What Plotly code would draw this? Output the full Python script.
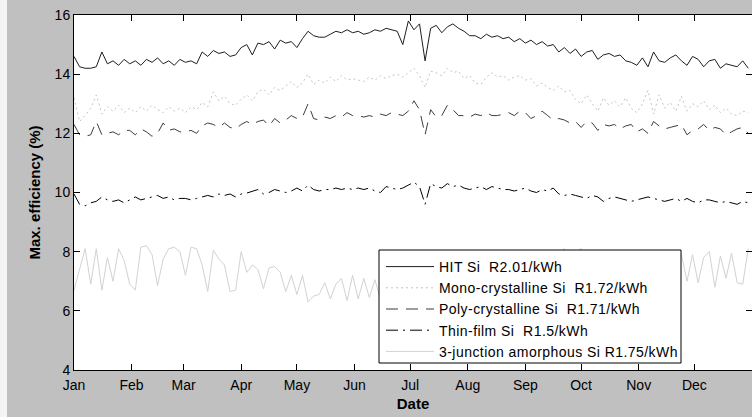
import plotly.graph_objects as go
import pandas as pd

# ---------------- data ----------------
months = ["Jan", "Feb", "Mar", "Apr", "May", "Jun", "Jul", "Aug", "Sep", "Oct", "Nov", "Dec"]
day_of_year = list(range(0, 366, 3))  # sampling grid (every 3rd day)

hit_si = [
    14.6, 14.25, 14.2, 14.2, 14.25, 14.75, 14.35, 14.45, 14.3, 14.5,
    14.35, 14.45, 14.3, 14.5, 14.4, 14.55, 14.35, 14.45, 14.3, 14.5,
    14.4, 14.45, 14.35, 14.75, 14.6, 14.8, 14.7, 14.75, 14.6, 14.65,
    14.9, 15.0, 14.65, 15.05, 15.0, 15.1, 14.85, 15.15, 15.05, 15.1,
    14.9, 15.2, 15.45, 15.3, 15.25, 15.25, 15.35, 15.45, 15.4, 15.5,
    15.4, 15.45, 15.35, 15.4, 15.5, 15.45, 15.55, 15.5, 15.45, 15.0,
    15.8, 15.5, 15.7, 14.45, 15.55, 15.65, 15.4, 15.6, 15.7, 15.55,
    15.45, 15.3, 15.3, 15.2, 15.35, 15.25, 15.3, 15.2, 15.25, 15.1,
    15.2, 15.05, 15.15, 15.0, 15.1, 14.95, 15.0, 14.75, 14.9, 14.7,
    14.85, 14.6, 14.75, 14.8, 14.5, 14.65, 14.7, 14.6, 14.65, 14.45,
    14.4, 14.3, 14.55, 14.25, 14.75, 14.45, 14.4, 14.55, 14.65, 14.45,
    14.3, 14.6, 14.5, 14.25, 14.45, 14.5, 14.2, 14.35, 14.3, 14.25,
    14.45, 14.2,
]

mono_si = [
    13.2, 12.4, 12.6, 12.85, 13.3, 12.65, 12.9, 12.75, 12.95, 12.7,
    12.85, 12.7, 12.9, 12.75, 12.95, 12.8, 12.7, 12.9, 12.75, 12.85,
    12.7, 12.9, 12.8, 13.05, 12.9, 13.4, 13.1, 13.25, 13.0, 12.95,
    13.15, 13.3, 13.1, 13.4, 13.5, 13.3, 13.55, 13.45, 13.6, 13.75,
    13.55, 13.7, 14.0, 13.65, 13.8, 13.7, 13.9, 13.75, 13.95, 13.8,
    13.85, 13.8, 13.75, 13.9, 13.8, 13.95, 13.85, 13.95, 14.0, 13.9,
    14.05, 14.2, 13.95, 13.55, 14.1, 14.05, 13.95, 14.2, 14.05, 14.1,
    13.85, 13.95, 13.7, 13.65, 13.9, 14.05, 13.9, 13.95, 13.8, 13.9,
    13.95, 13.8, 13.85, 13.6, 13.7, 13.55, 13.45, 13.6, 13.4, 13.45,
    13.15, 13.0, 13.3, 13.0, 12.75, 13.2, 12.95, 13.1, 12.9, 13.2,
    12.85, 12.7, 13.0, 13.45, 12.65, 13.3, 12.85, 13.05, 12.75, 13.25,
    12.75, 13.0, 12.9, 13.1, 12.8, 12.95, 12.7, 12.85, 12.65, 12.6,
    12.75, 12.7,
]

poly_si = [
    12.3, 11.95, 11.9, 11.95, 12.4, 11.95, 12.0, 12.05, 11.95, 12.1,
    12.1, 11.95, 12.15, 12.05, 11.9, 12.0, 12.35, 12.1, 12.15, 12.05,
    12.05, 12.1, 12.0, 12.25, 12.35, 12.3, 12.2, 12.35, 12.2, 12.15,
    12.3, 12.4, 12.3, 12.4, 12.45, 12.25, 12.5, 12.35, 12.45, 12.6,
    12.5, 12.55, 13.0, 12.5, 12.45, 12.55, 12.5, 12.6, 12.55, 12.7,
    12.6, 12.6, 12.55, 12.6, 12.55, 12.65, 12.6, 12.7, 12.65, 12.6,
    12.75, 13.1, 12.8, 11.95, 12.8, 12.55, 12.6, 12.95, 12.8, 12.6,
    12.6, 12.55, 12.65, 12.6, 12.7, 12.6, 12.6, 12.65, 12.7, 12.6,
    12.75, 12.7, 12.5, 12.6, 12.75, 12.6, 12.45, 12.5, 12.45, 12.35,
    12.4, 12.2, 12.4, 12.35, 12.1, 12.3, 12.25, 12.3, 12.15, 12.25,
    12.3, 12.05, 12.15, 12.0, 12.4, 12.25, 12.15, 12.2, 12.25, 12.3,
    11.95, 12.1, 12.15, 12.3, 12.1, 12.2, 12.15, 11.95, 12.05, 12.15,
    12.2, 12.0,
]

thin_film_si = [
    9.95, 9.6, 9.55, 9.65, 9.7, 9.85, 9.75, 9.7, 9.75, 9.65,
    9.75, 9.85, 9.75, 9.8, 9.85, 9.9, 9.8, 9.85, 9.75, 9.8,
    9.8, 9.75, 9.8, 9.85, 9.9, 9.85, 9.95, 9.9, 9.95, 9.85,
    9.95, 9.98, 10.05, 10.1, 9.95, 10.0, 10.1, 10.05, 10.0, 10.05,
    10.15, 10.05, 10.25, 10.1, 10.05, 10.1, 10.1, 10.15, 10.1, 10.15,
    10.1, 10.15, 10.1, 10.15, 10.05, 10.0, 10.2, 10.15, 10.1, 10.15,
    10.25, 10.35, 10.2, 9.6, 10.3, 10.2, 10.15, 10.3, 10.2, 10.25,
    10.15, 10.1, 10.15, 10.2, 10.1, 10.2, 10.15, 10.1, 10.1, 10.05,
    10.1, 10.15, 10.05, 10.0, 10.1, 10.05, 10.15, 9.95, 9.9, 9.95,
    9.9, 9.85, 9.8, 9.9, 9.85, 9.7, 9.8, 9.85, 9.8, 9.75,
    9.7, 9.75, 9.8, 9.85, 9.8, 9.75, 9.7, 9.75, 9.8, 9.7,
    9.8, 9.7, 9.65, 9.75, 9.75, 9.7, 9.65, 9.7, 9.65, 9.6,
    9.7, 9.65,
]

amorphous_si = [
    6.7, 7.4, 8.1, 6.9, 8.1, 6.7, 7.8, 7.0, 8.1, 7.7,
    6.9, 6.7, 8.15, 8.2, 7.9, 6.85, 7.75, 8.1, 8.15, 8.0,
    7.2, 8.15, 8.1, 7.55, 6.65, 8.05, 7.75, 7.55, 6.65, 6.7,
    8.0, 7.3, 7.55, 7.4, 6.75, 7.45, 7.5, 7.3, 6.65, 7.2,
    6.55, 7.2, 6.3, 6.5, 6.55, 6.95, 6.4, 6.9, 7.1, 6.35,
    7.2, 6.4, 7.1, 6.45, 7.05, 6.4, 6.9, 6.5, 7.2, 6.6,
    7.0, 6.7, 7.3, 6.6, 7.1, 6.8, 7.4, 6.9, 7.2, 6.7,
    7.5, 7.0, 7.6, 6.9, 7.4, 7.7, 7.0, 7.6, 7.2, 7.8,
    7.1, 7.7, 7.3, 7.9, 7.2, 7.8, 7.4, 7.95, 8.1, 7.5,
    8.0, 8.1, 7.3, 7.9, 7.2, 7.8, 7.0, 7.9, 7.3, 8.0,
    7.1, 7.8, 8.05, 7.2, 7.9, 6.9, 7.7, 7.1, 7.4, 7.9,
    7.0, 7.9, 6.95, 7.8, 8.0, 6.8, 7.85, 7.1, 7.95, 6.95,
    6.9, 8.1,
]

series_names = [
    "HIT Si  R2.01/kWh",
    "Mono-crystalline Si  R1.72/kWh",
    "Poly-crystalline Si  R1.71/kWh",
    "Thin-film Si  R1.5/kWh",
    "3-junction amorphous Si R1.75/kWh",
]
y_ticks = [4, 6, 8, 10, 12, 14, 16]

# ---------------- figure ----------------
base = pd.Timestamp("2011-01-01")
dates = [base + pd.Timedelta(days=d) for d in day_of_year]
month_starts = [pd.Timestamp(2011, m, 1) for m in range(1, 13)]

styles = [
    dict(color="#1e1e1e", dash="solid"),
    dict(color="#c4c4c4", dash="2px,3px"),
    dict(color="#3c3c3c", dash="12px,8px"),
    dict(color="#000000", dash="12px,5px,2px,5px"),
    dict(color="#d2d2d2", dash="solid"),
]
values = [hit_si, mono_si, poly_si, thin_film_si, amorphous_si]

fig = go.Figure()
for name, vals, st in zip(series_names, values, styles):
    fig.add_trace(go.Scatter(
        x=dates[:len(vals)], y=vals, mode="lines",
        name='<span style="letter-spacing:0.45px">' + name + '</span>',
        line=dict(color=st["color"], width=1, dash=st["dash"]),
    ))

FONT = "Liberation Sans, Arial, sans-serif"
W, H = 752, 417
L, R, T, B = 74, 0, 15, 47
pw, ph = W - L - R, H - T - B

def px_x(p):
    return (p - L) / pw

def px_y(p):
    return (H - B - p) / ph

fig.update_layout(
    width=W, height=H,
    margin=dict(l=L, r=R, t=T, b=B, pad=0),
    paper_bgcolor="#c0c0c0",
    plot_bgcolor="#ffffff",
    showlegend=True,
    font=dict(family=FONT, size=14, color="#000000"),
    legend=dict(
        x=px_x(381), y=px_y(251), xanchor="left", yanchor="top",
        bgcolor="rgba(0,0,0,0)", borderwidth=0,
        font=dict(family=FONT, size=14, color="#000000"),
        itemwidth=48, tracegroupgap=0,
    ),
    xaxis=dict(
        type="date",
        range=[pd.Timestamp("2011-01-01"), pd.Timestamp("2012-01-01")],
        tickvals=month_starts, ticktext=months,
        ticks="inside", ticklen=6, tickcolor="#000000", tickwidth=1,
        showline=True, linecolor="#000000", linewidth=1, mirror="ticks",
        showgrid=False, zeroline=False, ticklabelstandoff=2,
        tickfont=dict(family=FONT, size=14, color="#000000"),
        title=dict(text="<b>Date</b>", font=dict(family=FONT, size=15, color="#000000"), standoff=6),
        automargin=False,
    ),
    yaxis=dict(
        range=[4, 16], tickvals=y_ticks,
        ticks="inside", ticklen=6, tickcolor="#000000", tickwidth=1,
        showline=True, linecolor="#000000", linewidth=1, mirror="ticks",
        showgrid=False, zeroline=False,
        tickfont=dict(family=FONT, size=14, color="#000000"),
        title=dict(text="<b>Max. efficiency (%)</b>", font=dict(family=FONT, size=15, color="#000000"), standoff=10),
        automargin=False,
    ),
    shapes=[
        # legend box
        dict(type="rect", xref="paper", yref="paper",
             x0=px_x(379), x1=px_x(681), y0=px_y(363), y1=px_y(250),
             fillcolor="#ffffff", line=dict(color="#000000", width=1), layer="above"),
        # thin light strip at the left edge of the figure
        dict(type="rect", xref="paper", yref="paper",
             x0=px_x(0), x1=px_x(7), y0=px_y(417), y1=px_y(0),
             fillcolor="#f4f4f4", line=dict(width=0), layer="below"),
    ],
)

fig.write_html("out.html")
